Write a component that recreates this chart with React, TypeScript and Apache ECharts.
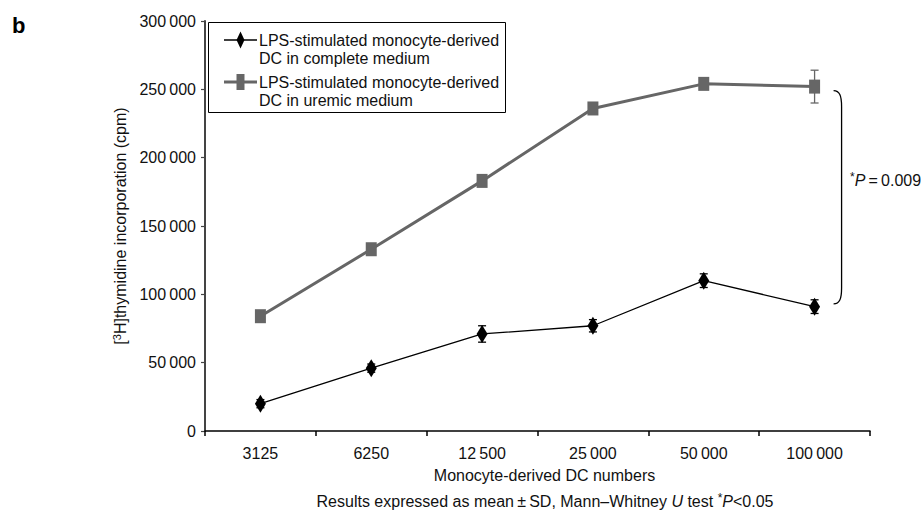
import React, { useEffect, useRef } from "react";
import * as echarts from "echarts";

const categories = ["3125", "6250", "12\u2009500", "25\u2009000", "50\u2009000", "100\u2009000"];
const completeMean = [20000, 46000, 71000, 77000, 110000, 91000];
const completeSD = [3000, 3000, 6000, 4500, 5000, 5000];
const uremicMean = [84000, 133000, 183000, 236000, 254000, 252000];
const uremicSD = [3000, 3000, 3000, 3000, 3000, 12000];
const yTicks = { min: 0, max: 300000, interval: 50000 };
const bracketRange = [93000, 249000];

const FONT = "Liberation Sans, Arial, Helvetica, sans-serif";
const GRAY = "#666666";

function fmt(v: number) {
  return String(v).replace(/\B(?=(\d{3})+(?!\d))/g, "\u2009");
}

function errorSeries(name: string, mean: number[], sd: number[], color: string, z: number) {
  return {
    name,
    type: "custom",
    z,
    silent: true,
    data: mean.map((m, i) => [i, m - sd[i], m + sd[i]]),
    renderItem: (params: any, api: any) => {
      const lo = api.coord([api.value(0), api.value(1)]);
      const hi = api.coord([api.value(0), api.value(2)]);
      const w = 4;
      const style = { stroke: color, lineWidth: 1.3 };
      return {
        type: "group",
        children: [
          { type: "line", shape: { x1: lo[0], y1: lo[1], x2: hi[0], y2: hi[1] }, style },
          { type: "line", shape: { x1: lo[0] - w, y1: lo[1], x2: lo[0] + w, y2: lo[1] }, style },
          { type: "line", shape: { x1: hi[0] - w, y1: hi[1], x2: hi[0] + w, y2: hi[1] }, style },
        ],
      };
    },
  };
}

export default function App() {
  const ref = useRef<HTMLDivElement>(null);
  useEffect(() => {
    if (!ref.current) return;
    const chart = echarts.init(ref.current, null, { renderer: "svg" });
    const legendItems = [
      { y: 40, color: "#000", lw: 1.3, sym: "diamond", l1: "LPS-stimulated monocyte-derived", l2: "DC in complete medium" },
      { y: 82, color: GRAY, lw: 3, sym: "square", l1: "LPS-stimulated monocyte-derived", l2: "DC in uremic medium" },
    ];
    const legendGraphics: any[] = [
      { type: "rect", shape: { x: 208.5, y: 22.5, width: 297, height: 90 }, style: { fill: "#fff", stroke: "#000", lineWidth: 1 }, z: 100 },
    ];
    legendItems.forEach((it) => {
      legendGraphics.push({ type: "line", shape: { x1: 224, y1: it.y, x2: 257, y2: it.y }, style: { stroke: it.color, lineWidth: it.lw }, z: 101 });
      if (it.sym === "diamond") {
        legendGraphics.push({ type: "polygon", shape: { points: [[240.5, it.y - 8.5], [244.5, it.y], [240.5, it.y + 8.5], [236.5, it.y]] }, style: { fill: "#000" }, z: 102 });
      } else {
        legendGraphics.push({ type: "rect", shape: { x: 236.5, y: it.y - 8, width: 8, height: 16 }, style: { fill: GRAY }, z: 102 });
      }
      legendGraphics.push({ type: "text", x: 259, y: it.y, style: { text: it.l1, font: `16px ${FONT}`, fill: "#111", verticalAlign: "middle" }, z: 102 });
      legendGraphics.push({ type: "text", x: 259, y: it.y + 18, style: { text: it.l2, font: `16px ${FONT}`, fill: "#111", verticalAlign: "middle" }, z: 102 });
    });

    chart.setOption({
      animation: false,
      backgroundColor: "#fff",
      textStyle: { fontFamily: FONT },
      grid: { left: 205, right: 51, top: 21, bottom: 79, containLabel: false },
      xAxis: {
        type: "category",
        data: categories,
        boundaryGap: true,
        axisLine: { lineStyle: { color: "#000", width: 1.5 } },
        axisTick: { show: true, length: 5, lineStyle: { color: "#000", width: 1.5 } },
        axisLabel: { color: "#111", fontSize: 16, margin: 14, fontFamily: FONT },
        name: "Monocyte-derived DC numbers",
        nameLocation: "middle",
        nameGap: 36,
        nameTextStyle: { color: "#111", fontSize: 16, fontFamily: FONT, padding: [0, 0, 0, 14] },
      },
      yAxis: {
        type: "value",
        min: yTicks.min,
        max: yTicks.max,
        interval: yTicks.interval,
        splitLine: { show: false },
        axisLine: { show: true, lineStyle: { color: "#444", width: 2 } },
        axisTick: { show: true, length: 4, lineStyle: { color: "#444", width: 1.2 } },
        axisLabel: { color: "#111", fontSize: 16, margin: 9, fontFamily: FONT, formatter: (v: number) => fmt(v) },
        name: "{n|[}{s|3}{n|H]thymidine incorporation (cpm)}",
        nameLocation: "middle",
        nameRotate: 90,
        nameGap: 75,
        nameTextStyle: {
          color: "#111",
          fontFamily: FONT,
          fontSize: 16,
          rich: {
            n: { fontSize: 16, fontFamily: FONT, color: "#111", lineHeight: 18 },
            s: { fontSize: 11, fontFamily: FONT, color: "#111", lineHeight: 18, verticalAlign: "top", padding: [0, 0, 6, 0] },
          },
        },
      },
      series: [
        errorSeries("complete-sd", completeMean, completeSD, "#000", 1),
        errorSeries("uremic-sd", uremicMean, uremicSD, GRAY, 1),
        {
          name: "LPS-stimulated monocyte-derived DC in complete medium",
          type: "line",
          data: completeMean,
          symbol: "diamond",
          symbolSize: [11, 18],
          lineStyle: { color: "#000", width: 1.3 },
          itemStyle: { color: "#000" },
          z: 3,
        },
        {
          name: "LPS-stimulated monocyte-derived DC in uremic medium",
          type: "line",
          data: uremicMean,
          symbol: "rect",
          symbolSize: [11, 14],
          lineStyle: { color: GRAY, width: 3 },
          itemStyle: { color: GRAY },
          z: 4,
        },
        {
          name: "bracket",
          type: "custom",
          silent: true,
          z: 2,
          data: [[categories.length - 1, bracketRange[0], bracketRange[1]]],
          renderItem: (params: any, api: any) => {
            const lo = api.coord([api.value(0), api.value(1)]);
            const hi = api.coord([api.value(0), api.value(2)]);
            const x = lo[0] + 19;
            const y1 = hi[1];
            const y2 = lo[1];
            return {
              type: "path",
              shape: {
                pathData: `M${x},${y1} C${x + 6},${y1} ${x + 8},${y1 + 5} ${x + 8},${y1 + 16} L${x + 8},${y2 - 16} C${x + 8},${y2 - 5} ${x + 6},${y2} ${x},${y2}`,
              },
              style: { fill: "none", stroke: "#000", lineWidth: 1.3 },
            };
          },
        },
      ],
      graphic: [
        { type: "text", left: 12, top: 14, style: { text: "b", font: `bold 22px ${FONT}`, fill: "#000" } },
        {
          type: "text",
          x: 850,
          y: 180,
          style: {
            text: "{s|*}{i|P}{n|\u2009=\u20090.009}",
            verticalAlign: "middle",
            rich: {
              s: { fontSize: 12, fontFamily: FONT, fill: "#111", verticalAlign: "top", lineHeight: 18 } as any,
              i: { fontSize: 16, fontFamily: FONT, fontStyle: "italic", fill: "#111", lineHeight: 18 } as any,
              n: { fontSize: 16, fontFamily: FONT, fill: "#111", lineHeight: 18 } as any,
            },
          },
        },
        {
          type: "text",
          x: 545,
          y: 501,
          style: {
            text: "{n|Results expressed as mean\u2009\u00b1\u2009SD, Mann\u2013Whitney }{i|U}{n| test }{s|*}{i|P}{n|<0.05}",
            align: "center",
            verticalAlign: "middle",
            rich: {
              n: { fontSize: 16, fontFamily: FONT, fill: "#111", lineHeight: 18 } as any,
              i: { fontSize: 16, fontFamily: FONT, fontStyle: "italic", fill: "#111", lineHeight: 18 } as any,
              s: { fontSize: 12, fontFamily: FONT, fill: "#111", verticalAlign: "top", lineHeight: 18 } as any,
            },
          },
        },
        ...legendGraphics,
      ],
    });
    return () => chart.dispose();
  }, []);
  return <div ref={ref} style={{ position: "fixed", left: 0, top: 0, width: 921, height: 510 }} />;
}
